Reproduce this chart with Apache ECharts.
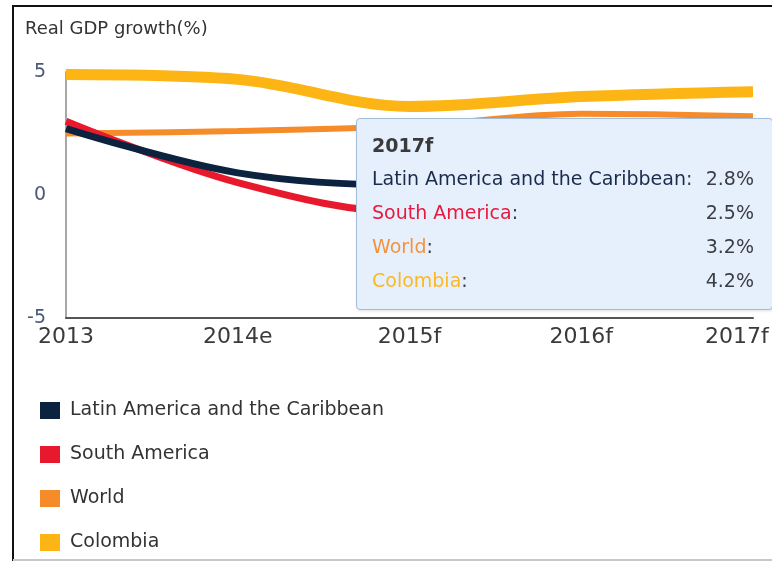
<!DOCTYPE html>
<html>
<head>
<meta charset="utf-8">
<script src="https://cdn.jsdelivr.net/npm/echarts@6/dist/echarts.min.js"></script>
<style>
  html, body { margin: 0; padding: 0; background: #fff; }
  #chart { width: 772px; height: 561px; }
</style>
</head>
<body>
<div id="chart"></div>
<script>
// Real GDP growth (%), actual / estimate / forecast
const years = ['2013', '2014e', '2015f', '2016f', '2017f'];
const seriesNames = ['Latin America and the Caribbean', 'South America', 'World', 'Colombia'];
const latinAmerica = [2.7, 0.9, 0.4, 1.9, 2.8];
const southAmerica = [3.0, 0.5, -0.7, 1.4, 2.5];
const world = [2.5, 2.6, 2.8, 3.3, 3.2];
const colombia = [4.9, 4.7, 3.6, 4.0, 4.2];
const yTicks = [-5, 0, 5];

const colors = ['#0c2340', '#e8192c', '#f68b2a', '#fdb515'];
const tipNameColors = ['#1b2b4b', '#e8193c', '#f5923e', '#fbb824'];
const lineWidths = [7, 7, 6, 11];
const layers = [3, 2, 1, 4];
const values = [latinAmerica, southAmerica, world, colombia];

const chart = echarts.init(document.getElementById('chart'));

const font = 'DejaVu Sans, Verdana, sans-serif';

function tipHtml(idx) {
  let html = '<div style="font-family:' + font + ';font-size:19px;line-height:32px;font-weight:bold;color:#3a3a3a;">' + years[idx] + '</div>';
  seriesNames.forEach(function (name, i) {
    html += '<div style="display:flex;justify-content:space-between;font-family:' + font +
      ';font-size:19px;line-height:34px;color:#3c3c44;">' +
      '<span><span style="color:' + tipNameColors[i] + ';">' + name + '</span>:</span>' +
      '<span>' + values[i][idx].toFixed(1) + '%</span></div>';
  });
  return html;
}

chart.setOption({
  animation: false,
  title: {
    text: 'Real GDP growth(%)',
    left: 20,
    top: 15,
    textStyle: { fontFamily: font, fontSize: 18, fontWeight: 'normal', color: '#333' }
  },
  grid: { left: 66, right: 19, top: 72, bottom: 243 },
  xAxis: {
    type: 'category',
    data: years,
    boundaryGap: false,
    axisLine: { onZero: false, lineStyle: { color: '#555', width: 2 } },
    axisTick: { show: false },
    axisLabel: {
      interval: 0,
      hideOverlap: false,
      margin: 8,
      fontFamily: font,
      fontSize: 22,
      color: '#3a3a3a',
      formatter: function (v, i) { return i === years.length - 1 ? '{last|' + v + '}' : v; },
      rich: { last: { fontFamily: font, fontSize: 22, color: '#3a3a3a', width: 96, align: 'left' } }
    },
    splitLine: { show: false }
  },
  yAxis: {
    type: 'value',
    min: yTicks[0],
    max: yTicks[yTicks.length - 1],
    interval: yTicks[1] - yTicks[0],
    axisLine: { show: true, lineStyle: { color: '#a8a8a8', width: 2 } },
    axisTick: { show: false },
    splitLine: { show: false },
    axisLabel: { margin: 20, fontFamily: font, fontSize: 19, color: '#4c5878' }
  },
  legend: {
    orient: 'vertical',
    left: 40,
    top: 401,
    padding: 0,
    icon: 'rect',
    itemWidth: 20,
    itemHeight: 17,
    itemGap: 25,
    data: seriesNames,
    textStyle: { fontFamily: font, fontSize: 19, color: '#333', lineHeight: 17, padding: [0, 0, 0, 5] }
  },
  tooltip: {
    trigger: 'axis',
    triggerOn: 'none',
    alwaysShowContent: true,
    axisPointer: { type: 'none' },
    position: [356, 118],
    transitionDuration: 0,
    backgroundColor: '#e6f0fc',
    borderColor: '#a3bcd9',
    borderWidth: 1,
    borderRadius: 4,
    padding: [10, 18, 12, 15],
    extraCssText: 'width:382px;box-shadow:1px 1px 3px rgba(0,0,0,0.12);',
    formatter: function (params) { return tipHtml(params[0].dataIndex); }
  },
  series: seriesNames.map(function (name, i) {
    return {
      name: name,
      type: 'line',
      data: values[i],
      smooth: 0.35,
      symbol: 'none',
      z: layers[i],
      color: colors[i],
      lineStyle: { width: lineWidths[i], color: colors[i], cap: 'butt' },
      emphasis: { disabled: true }
    };
  }),
  graphic: [
    { type: 'line', shape: { x1: 13, y1: 6, x2: 772, y2: 6 }, style: { stroke: '#111', lineWidth: 2 } },
    { type: 'line', shape: { x1: 13, y1: 5, x2: 13, y2: 561 }, style: { stroke: '#111', lineWidth: 2 } },
    { type: 'line', shape: { x1: 13, y1: 560, x2: 772, y2: 560 }, style: { stroke: '#c8c8c8', lineWidth: 2 } }
  ]
});

chart.dispatchAction({ type: 'showTip', seriesIndex: 0, dataIndex: years.length - 1 });
</script>
</body>
</html>
